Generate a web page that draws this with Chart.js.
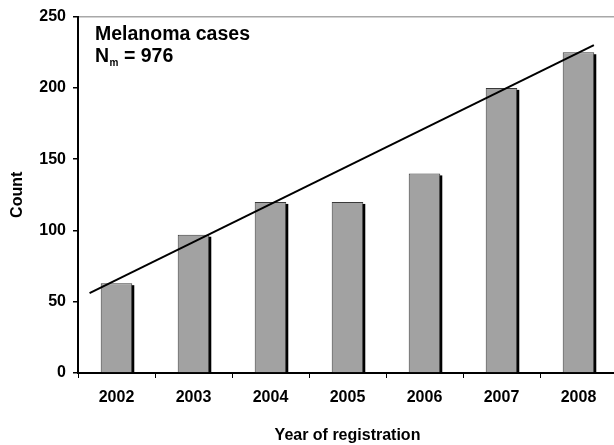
<!DOCTYPE html>
<html>
<head>
<meta charset="utf-8">
<script src="https://cdn.jsdelivr.net/npm/chart.js@4"></script>
<style>
    html, body { margin: 0; padding: 0; background: #fff; overflow: hidden; }
</style>
</head>
<body>
<canvas id="melanomaChart" width="620" height="445"></canvas>
<script>
// ===== DATA =====
const years = ["2002", "2003", "2004", "2005", "2006", "2007", "2008"];
const counts = [63, 97, 120, 120, 140, 200, 225];

// trend line end points (x in category units)
const trendX = [-0.35, 6.2];
const trendY = [56, 230];

const yTicks = { min: 0, max: 250, step: 50 };

const FONT = "'Liberation Sans', Arial, sans-serif";

// black drop shadow behind each bar (old excel look)
const barShadow = {
    id: "barShadow",
    beforeDatasetDraw(chart, args) {
        if (args.meta.type !== "bar") return;
        const ctx = chart.ctx;
        const shift = 2;
        ctx.save();
        ctx.fillStyle = "#000";
        args.meta.data.forEach(bar => {
            const p = bar.getProps(["x", "y", "base", "width"], true);
            ctx.fillRect(p.x - p.width / 2 + shift, p.y + shift, p.width, p.base - p.y - shift);
        });
        ctx.restore();
    }
};

// "Melanoma cases / Nm = 976" label
const caseLabel = {
    id: "caseLabel",
    afterDraw(chart) {
        const ctx = chart.ctx;
        const x = chart.chartArea.left + 17;
        ctx.save();
        ctx.fillStyle = "#000";
        ctx.textBaseline = "alphabetic";
        ctx.textAlign = "left";
        ctx.font = "bold 19.5px " + FONT;
        ctx.fillText("Melanoma cases", x, 40);
        ctx.fillText("N", x, 62);
        let cx = x + ctx.measureText("N").width;
        ctx.font = "bold 10px " + FONT;
        ctx.fillText("m", cx + 0.5, 66);
        cx += ctx.measureText("m").width + 0.5;
        ctx.font = "bold 19.5px " + FONT;
        ctx.fillText(" = 976", cx, 62);
        ctx.restore();
    }
};

new Chart(document.getElementById("melanomaChart"), {
    data: {
        labels: years,
        datasets: [
            {
                type: "line",
                label: "Trend",
                data: trendX.map((x, i) => ({ x: x, y: trendY[i] })),
                xAxisID: "xl",
                borderColor: "#000",
                borderWidth: 2,
                pointRadius: 0,
                fill: false,
                order: 0
            },
            {
                type: "bar",
                label: "Count",
                data: counts,
                backgroundColor: "#a2a2a2",
                borderColor: "#3a3a3a",
                borderWidth: 1,
                grouped: false,
                barPercentage: 0.41,
                categoryPercentage: 1,
                order: 1
            }
        ]
    },
    options: {
        responsive: false,
        animation: false,
        layout: {
            padding: { top: 13, right: 3, left: 0, bottom: 0 }
        },
        plugins: {
            legend: { display: false },
            tooltip: { enabled: false }
        },
        scales: {
            x: {
                offset: true,
                grid: {
                    offset: true,
                    drawOnChartArea: false,
                    tickColor: "#000",
                    tickLength: 5
                },
                border: { color: "#000", width: 2 },
                ticks: {
                    color: "#000",
                    padding: 10,
                    maxRotation: 0,
                    font: { family: FONT, size: 16, weight: "bold" }
                },
                title: {
                    display: true,
                    text: "Year of registration",
                    color: "#000",
                    padding: { top: 4, bottom: 0 },
                    font: { family: FONT, size: 16, weight: "bold" }
                },
                afterFit(scale) {
                    scale.height = 72;
                }
            },
            xl: {
                type: "linear",
                display: false,
                min: -0.5,
                max: 6.5
            },
            y: {
                min: yTicks.min,
                max: yTicks.max,
                grid: {
                    color: ctx => ctx.tick && ctx.tick.value === yTicks.max ? "#a8a8a8" : "rgba(0,0,0,0)",
                    lineWidth: 1.5,
                    tickColor: "#000",
                    tickLength: 5
                },
                border: { color: "#000", width: 2 },
                ticks: {
                    stepSize: yTicks.step,
                    color: "#000",
                    padding: 7,
                    font: { family: FONT, size: 16, weight: "bold" }
                },
                title: {
                    display: true,
                    text: "Count",
                    color: "#000",
                    padding: { top: 8, bottom: 0 },
                    font: { family: FONT, size: 16, weight: "bold" }
                },
                afterFit(scale) {
                    scale.width = 78;
                }
            }
        }
    },
    plugins: [barShadow, caseLabel]
});
</script>
</body>
</html>
